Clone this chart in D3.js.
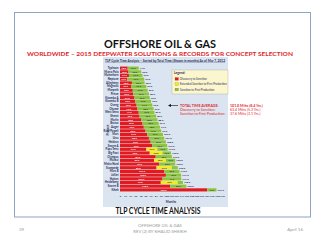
<!DOCTYPE html>
<html><head><meta charset="utf-8">
<script src="https://cdn.jsdelivr.net/npm/d3@7"></script>
<style>html,body{margin:0;padding:0;background:#fff;}svg{display:block;font-family:Lato,"Open Sans",sans-serif;}</style>
</head><body>
<svg id="c" width="320" height="240"></svg>
<script>
const projects = ["Typhoon","Marco Polo","Matterhorn","Neptune","Allegheny","Magnolia","Morpeth","Prince","Kizomba A","Kizomba B","Oveng","Okume","West Seno","Shenzi","Marlin","Brutus","Auger","Ram-Powell","Mars","Ursa","Heidrun","Snorre A","Papa Terra","Big Foot","Olympus","Malikai","Moho Nord","Stampede","Mars B","Jolliet","Hutton","Heidelberg","Snorre B","Kikeh"];
const discovery   = [18,20,21,17,28,26,30,31,34,36,39,41,44,46,50,53,56,60,64,68,72,76,62,70,84,80,92,86,104,108,100,96,118,205];
const extended    = [0,0,0,0,0,0,0,0,0,0,0,0,0,0,0,0,0,0,0,0,0,0,26,30,0,28,0,36,0,0,0,40,0,0];
const sanctionProd= [26,30,32,40,30,36,35,37,36,37,37,38,37,39,38,38,38,37,37,36,36,35,24,20,38,22,38,14,36,36,44,12,38,22];
const xTicks = [0,12,24,36,48,60,72,84,96,108,120,132,144,156,168,180,192,204,216,228,240];
const legendItems = ["Discovery to Sanction","Extended Sanction to First Production","Sanction to First Production"];
const summaryLabels = ["TOTAL TIME AVERAGE:","Discovery to Sanction:","Sanction to First Production:"];
const summaryValues = ["101.0 Mths (8.4 Yrs.)","63.4 Mths (5.3 Yrs.)","37.6 Mths (3.1 Yrs.)"];

const colors = {red:"#e3191f", yellow:"#f6ea1a", green:"#8cc43f"};
const svg = d3.select("#c");

// slide frame
svg.append("rect").attr("x",14.5).attr("y",12.5).attr("width",296).attr("height",204.5)
  .attr("fill","none").attr("stroke","#8ea4c2").attr("stroke-width",1);

svg.append("text").attr("x",160).attr("y",48).attr("text-anchor","middle")
  .attr("font-size",11.5).attr("font-weight","bold").attr("fill","#111")
  .attr("textLength",112).attr("lengthAdjust","spacingAndGlyphs").text("OFFSHORE OIL & GAS");
svg.append("text").attr("x",160).attr("y",55.5).attr("text-anchor","middle")
  .attr("font-size",5.6).attr("font-weight","bold").attr("fill","#e0262b")
  .attr("textLength",266).attr("lengthAdjust","spacingAndGlyphs")
  .text("WORLDWIDE – 2015 DEEPWATER SOLUTIONS & RECORDS FOR CONCEPT SELECTION");

// chart picture background
svg.append("rect").attr("x",103).attr("y",57).attr("width",125).attr("height",150).attr("fill","#dbe5f1");
svg.append("text").attr("x",105).attr("y",61.5).attr("font-size",3).attr("font-weight","bold").attr("fill","#1f2d55")
  .attr("textLength",120).attr("lengthAdjust","spacingAndGlyphs")
  .text("TLP Cycle Time Analysis – Sorted by Total Time (Shown in months) As of Mar 7, 2012");
svg.append("line").attr("x1",105).attr("x2",225).attr("y1",62.3).attr("y2",62.3).attr("stroke","#1f2d55").attr("stroke-width",0.3);

const x = d3.scaleLinear().domain([0,240]).range([120,222]);
const y = d3.scaleBand().domain(projects).range([66,192]).padding(0.15);

const rows = projects.map((p,i)=>({p, red:discovery[i], yellow:extended[i], green:sanctionProd[i]}));
const stack = d3.stack().keys(["red","yellow","green"])(rows);

const g = svg.append("g");
stack.forEach(layer=>{
  g.selectAll(null).data(layer).join("rect")
    .attr("x",d=>x(d[0])).attr("width",d=>x(d[1])-x(d[0]))
    .attr("y",d=>y(d.data.p)).attr("height",y.bandwidth())
    .attr("fill",colors[layer.key]);
  g.selectAll(null).data(layer.filter(d=>x(d[1])-x(d[0])>7)).join("text")
    .attr("x",d=>(x(d[0])+x(d[1]))/2).attr("y",d=>y(d.data.p)+y.bandwidth()/2+0.9)
    .attr("text-anchor","middle").attr("font-size",2.4).attr("font-weight","bold")
    .attr("fill",layer.key==="red"?"#fff":"#333")
    .text(d=>(d[1]-d[0]).toFixed(1));
});
// totals
g.selectAll(null).data(rows).join("text")
  .attr("x",d=>x(d.red+d.yellow+d.green)+1).attr("y",d=>y(d.p)+y.bandwidth()/2+0.9)
  .attr("font-size",2.5).attr("font-weight","bold").attr("fill","#222")
  .text(d=>(d.red+d.yellow+d.green).toFixed(1));

// category axis
const ya = svg.append("g").attr("transform","translate(120,0)")
  .call(d3.axisLeft(y).tickSize(0).tickPadding(1.5));
ya.select(".domain").remove();
ya.selectAll("text").attr("font-size",2.8).attr("font-weight","bold").attr("fill","#1f2d55").attr("font-family","Lato,sans-serif");
svg.append("text").attr("transform","translate(108.5,130) rotate(-90)").attr("text-anchor","middle")
  .attr("font-size",3.5).attr("font-weight","bold").attr("fill","#1f2d55").text("Project");

// x axis
const xa = svg.append("g").attr("transform","translate(0,195)")
  .call(d3.axisBottom(x).tickValues(xTicks).tickSize(0).tickPadding(0.5));
xa.select(".domain").remove();
xa.selectAll("text").attr("font-size",2.6).attr("font-weight","bold").attr("fill","#1f2d55").attr("font-family","Lato,sans-serif");
svg.append("text").attr("x",171).attr("y",203).attr("text-anchor","middle")
  .attr("font-size",3).attr("font-weight","bold").attr("fill","#1f2d55").text("Months");

// legend
svg.append("rect").attr("x",172).attr("y",70).attr("width",56).attr("height",24)
  .attr("fill","#fcf6cf").attr("stroke","#a9a9a0").attr("stroke-width",0.4);
svg.append("text").attr("x",174).attr("y",74.3).attr("font-size",3.2).attr("font-weight","bold").attr("fill","#1f2d55").text("Legend:");
const legColors = [colors.red, colors.yellow, colors.green];
legendItems.forEach((t,i)=>{
  const yy = 79 + i*5.3;
  svg.append("rect").attr("x",175).attr("y",yy-1.5).attr("width",3.5).attr("height",2.8)
    .attr("fill",legColors[i]).attr("stroke","#666").attr("stroke-width",0.2);
  svg.append("text").attr("x",180).attr("y",yy+0.9).attr("font-size",2.8).attr("fill","#1f2d55").text(t);
});

// summary
svg.append("line").attr("x1",178).attr("x2",170).attr("y1",105.5).attr("y2",105.5).attr("stroke","#111").attr("stroke-width",0.6);
svg.append("path").attr("d","M168,105.5 L171,104 L171,107 Z").attr("fill","#111");
summaryLabels.forEach((t,i)=>{
  const yy = 107 + i*4;
  svg.append("text").attr("x",180).attr("y",yy).attr("font-size",3.6).attr("font-weight",i===0?"bold":"normal")
    .attr("fill","#e0262b").text(t);
  svg.append("text").attr("x",230).attr("y",yy).attr("font-size",3.6).attr("font-weight",i===0?"bold":"normal")
    .attr("fill","#e0262b").text(summaryValues[i]);
});

// caption
svg.append("text").attr("x",158).attr("y",214.3).attr("text-anchor","middle")
  .attr("font-size",8.5).attr("font-weight","bold").attr("fill","#111")
  .attr("textLength",85).attr("lengthAdjust","spacingAndGlyphs").text("TLP CYCLE TIME ANALYSIS");

// footer
svg.append("text").attr("x",19).attr("y",231).attr("font-size",4.5).attr("fill","#999").text("39");
svg.append("text").attr("x",160).attr("y",227).attr("text-anchor","middle").attr("font-size",4.3).attr("fill","#999").text("OFFSHORE OIL & GAS");
svg.append("text").attr("x",160).attr("y",232.5).attr("text-anchor","middle").attr("font-size",4.3).attr("fill","#999").text("REV (2)  BY KHALID SHEIKH");
svg.append("text").attr("x",303).attr("y",231).attr("text-anchor","end").attr("font-size",4.5).attr("fill","#999").text("April 16");
</script>
</body></html>
